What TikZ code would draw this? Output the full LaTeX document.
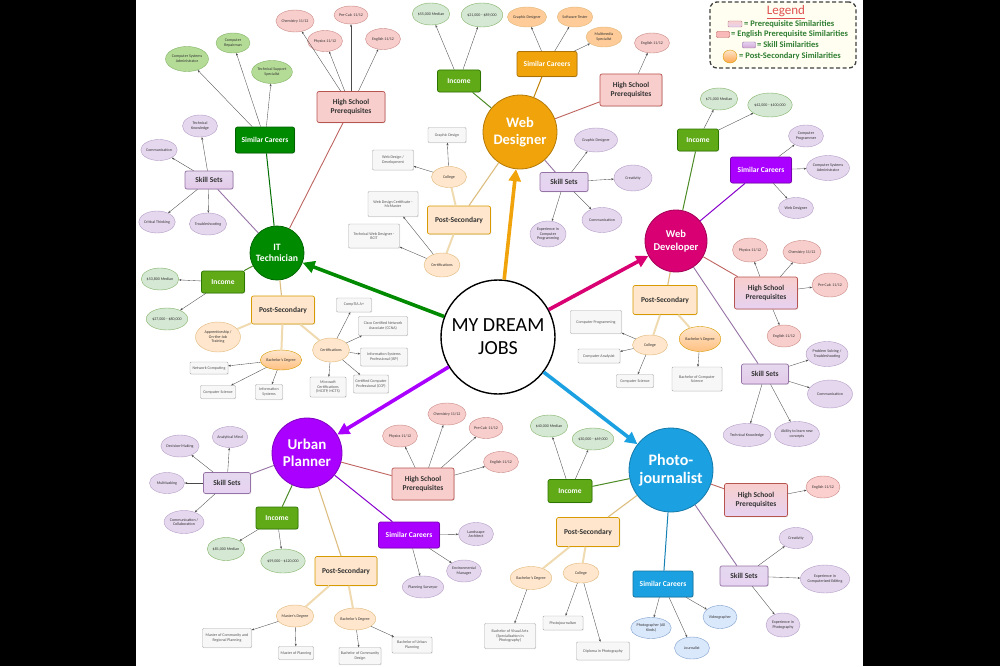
\documentclass[tikz,border=0pt]{standalone}
\usepackage{fontspec}
\setmainfont{Carlito}
\usetikzlibrary{shapes.geometric,arrows.meta,shadows}
\newcommand\fsm{\fontsize{4}{4.6}\selectfont}
\newcommand\fbx{\fontsize{7.5}{8.6}\selectfont\bfseries}
\definecolor{itg}{HTML}{008A00}
\definecolor{wdo}{HTML}{F0A30A}
\definecolor{wdv}{HTML}{D80073}
\definecolor{upp}{HTML}{AA00FF}
\definecolor{phb}{HTML}{1BA1E2}
\definecolor{incg}{HTML}{60A917}
\definecolor{incD}{HTML}{2D7600}
\definecolor{pkF}{HTML}{F8CECC}
\definecolor{pkD}{HTML}{B85450}
\definecolor{pkE}{HTML}{C98A86}
\definecolor{lvF}{HTML}{E5D8EE}
\definecolor{lvD}{HTML}{9673A6}
\definecolor{lvE}{HTML}{B49CC6}
\definecolor{lvP}{HTML}{E6D2F2}
\definecolor{pcF}{HTML}{FFE6CC}
\definecolor{pcD}{HTML}{D79B00}
\definecolor{pcE}{HTML}{E0B878}
\definecolor{grF}{HTML}{D5E8D4}
\definecolor{grD}{HTML}{82B366}
\definecolor{gcF}{HTML}{B5DC97}
\definecolor{blF}{HTML}{DAE8FC}
\definecolor{blD}{HTML}{7F9FCC}
\definecolor{gyF}{HTML}{F7F7F7}
\definecolor{gyD}{HTML}{A8A8A8}
\definecolor{gyT}{HTML}{555555}
\definecolor{ocF}{HTML}{FFCC99}
\definecolor{txt}{HTML}{333333}
\definecolor{arrC}{HTML}{4A4A4A}
\definecolor{tanL}{HTML}{F0DAB0}
\definecolor{tanM}{HTML}{DDBE80}
\definecolor{legG}{HTML}{2E7D32}
\definecolor{legR}{HTML}{E05050}
\tikzset{
  every node/.style={inner sep=0.5pt, align=center},
  hub/.style={circle, draw=#1!75!black, fill=#1, text=white, line width=0.8pt},
  bx/.style={rectangle, rounded corners=2pt, line width=0.7pt, font=\fbx,
     drop shadow={opacity=0.18, shadow xshift=0.8pt, shadow yshift=-0.8pt}},
  careers/.style={bx, fill=#1, draw=#1!70!black, text=white, minimum width=60pt, minimum height=26pt},
  income/.style={bx, fill=incg, draw=incD, text=white, minimum width=43pt, minimum height=22pt},
  hs/.style={bx, fill=pkF, draw=pkD, text=txt, minimum width=63pt, minimum height=32pt},
  hsg/.style={hs, top color=pkF, bottom color=lvP},
  sk/.style={bx, draw=lvD, top color=lvF, bottom color=#1, text=txt, minimum width=48pt, minimum height=19pt},
  ps/.style={bx, fill=pcF, draw=pcD, text=txt, minimum width=63pt, minimum height=28pt},
  el/.style={ellipse, font=\fsm, text=txt, line width=0.4pt, minimum width=35pt, minimum height=22pt, inner sep=0pt},
  pk/.style={el, fill=pkF, draw=pkE},
  gr/.style={el, fill=grF, draw=grD},
  gc/.style={el, fill=gcF, draw=grD},
  lv/.style={el, fill=lvF, draw=lvE},
  pc/.style={el, fill=pcF, draw=pcE},
  og/.style={el, top color=pcF, bottom color=ocF!85!orange, draw=pcD},
  oc/.style={el, fill=ocF, draw=pcE},
  bl/.style={el, fill=blF, draw=blD},
  gy/.style={rectangle, rounded corners=1pt, fill=gyF, draw=gyD, line width=0.4pt, font=\fsm, text=gyT,
     drop shadow={opacity=0.15, shadow xshift=0.7pt, shadow yshift=-0.7pt}},
  sz/.style 2 args={minimum width=#1pt, minimum height=#2pt},
  arr/.style={-{Stealth[length=2.6pt,width=2pt]}, draw=arrC, line width=0.35pt},
  psl/.style={draw=tanL, line width=2pt},
  lnP/.style={draw=tanM, line width=1.1pt},
  lnG/.style={draw=incD!85!white, line width=1pt},
  lnH/.style={draw=pkD!90!white, line width=0.9pt},
  lnS/.style={draw=lvD, line width=0.9pt},
  lnC/.style={draw=#1!80!black, line width=1pt},
  bigarr/.style={line width=3.6pt, draw=#1, -{Triangle[length=12pt,width=12pt]}},
  legtxt/.style={anchor=west, text=legG, font=\fontsize{8.5}{9}\selectfont\bfseries, inner sep=0pt},
}
\begin{document}
\begin{tikzpicture}[x=1pt,y=-1pt]
\useasboundingbox (0,0) rectangle (1000,666);
\fill[black] (0,0) rectangle (1000,666);
\fill[white] (136,0) rectangle (863,666);

% ---------- centre and hubs ----------
\node[circle, draw=black, line width=1.4pt, fill=white, minimum size=114pt, font=\fontsize{20}{23}\selectfont] (c) at (498,337) {MY DREAM\\JOBS};
\node[hub=itg, minimum size=54pt, font=\fontsize{9.7}{11}\selectfont\bfseries] (it) at (277,253) {IT\\Technician};
\node[hub=wdo, minimum size=74pt, font=\fontsize{14.5}{16.5}\selectfont\bfseries] (wd) at (520,132) {Web\\Designer};
\node[hub=wdv, minimum size=62pt, font=\fontsize{10.5}{12.5}\selectfont\bfseries] (wv) at (676,241) {Web\\Developer};
\node[hub=upp, minimum size=70pt, font=\fontsize{15}{17}\selectfont\bfseries] (up) at (307,453) {Urban\\Planner};
\node[hub=phb, minimum size=84pt, font=\fontsize{16}{18.5}\selectfont\bfseries] (ph) at (671,470) {Photo-\\journalist};

\draw[bigarr=wdo] (c) -- (wd);
\draw[bigarr=itg] (c) -- (it);
\draw[bigarr=wdv] (c) -- (wv);
\draw[bigarr=upp] (c) -- (up);
\draw[bigarr=phb] (c) -- (ph);

% ---------- IT Technician ----------
\node[careers=itg, sz={59}{26}] (itSC) at (265,140) {Similar Careers};
\node[gc, sz={38}{25}] (itSC1) at (187,59) {Computer Systems\\Administrator};
\node[gc, sz={34}{20}] (itSC2) at (233,43) {Computer\\Repairman};
\node[gc, sz={39}{23}] (itSC3) at (272,72) {Technical Support\\Specialist};
\node[hs, sz={68}{31}] (itHS) at (351,107) {High School\\Prerequisites};
\node[pk, sz={34}{22}] (itH1) at (295,21) {Chemistry 11/12};
\node[pk, sz={34}{18}] (itH2) at (351,15) {Pre-Calc 11/12};
\node[pk, sz={35}{21}] (itH3) at (325,41) {Physics 11/12};
\node[pk, sz={35}{21}] (itH4) at (383,39) {English 11/12};
\node[sk=lvP!80!violet!60, sz={48}{18}] (itSK) at (209,180) {Skill Sets};
\node[lv, sz={35}{22}] (itK1) at (200,126) {Technical\\Knowledge};
\node[lv, sz={35}{21}] (itK2) at (159,150) {Communication};
\node[lv, sz={32}{22}] (itK3) at (157,222) {Critical Thinking};
\node[lv, sz={34}{22}] (itK4) at (208,224) {Troubleshooting};
\node[income, sz={43}{22}] (itIN) at (223,282) {Income};
\node[gr, sz={35}{22}] (itI1) at (160,279) {\$53,800 Median};
\node[gr, sz={35}{22}] (itI2) at (167,319) {\$27,000 - \$80,000};
\node[ps, sz={63}{28}] (itPS) at (283,310) {Post-Secondary};
\node[pc, sz={45}{30}] (itP1) at (218,337) {Apprenticeship /\\On-the-Job\\Training};
\node[og, sz={34}{20}] (itP2) at (281,360) {Bachelor's Degree};
\node[pc, sz={37}{24}] (itP3) at (331,350) {Certifications};
\node[gy, sz={38}{12}] (itR1) at (209,368) {Network Computing};
\node[gy, sz={35}{13}] (itR2) at (218,392) {Computer Science};
\node[gy, sz={27}{15}] (itR3) at (269,392) {Information\\Systems};
\node[gy, sz={35}{14}] (itR4) at (354,305) {CompTIA A+};
\node[gy, sz={49}{19}] (itR5) at (383,326) {Cisco Certified Network\\Associate (CCNA)};
\node[gy, sz={47}{18}] (itR6) at (384,357) {Information Systems\\Professional (ISP)};
\node[gy, sz={35}{18}] (itR7) at (371,384) {Certified Computer\\Professional (CCP)};
\node[gy, sz={36}{20}] (itR8) at (328,387) {Microsoft\\Certifications\\(MCITP, MCTS)};

\draw[lnC=itg] (it) -- (itSC);
\draw[lnH] (it) -- (itHS);
\draw[lnS] (it) -- (itSK);
\draw[lnG] (it) -- (itIN);
\draw[lnP] (it) -- (itPS);
\foreach \t in {itSC1,itSC2,itSC3} \draw[arr] (itSC) -- (\t);
\foreach \t in {itH1,itH2,itH3,itH4} \draw[arr] (itHS) -- (\t);
\foreach \t in {itK1,itK2,itK3,itK4} \draw[arr] (itSK) -- (\t);
\foreach \t in {itI1,itI2} \draw[arr] (itIN) -- (\t);
\foreach \t in {itP1,itP2,itP3} \draw[psl] (itPS) -- (\t);
\foreach \t in {itR1,itR2,itR3} \draw[arr] (itP2) -- (\t);
\foreach \t in {itR4,itR5,itR6,itR7,itR8} \draw[arr] (itP3) -- (\t);

% ---------- Web Designer ----------
\node[income, sz={43}{22}] (wdIN) at (459,81) {Income};
\node[gr, sz={35}{22}] (wdI1) at (431,14) {\$55,000 Median};
\node[gr, sz={35}{24}] (wdI2) at (482,15) {\$21,000 - \$89,000};
\node[careers=wdo, sz={60}{25}] (wdSC) at (547,64) {Similar Careers};
\node[oc, sz={35}{20}] (wdC1) at (527,17) {Graphic Designer};
\node[oc, sz={35}{20}] (wdC2) at (575,17) {Software Tester};
\node[oc, sz={36}{20}] (wdC3) at (604,37) {Multimedia\\Specialist};
\node[hs, sz={62}{32}] (wdHS) at (631,90) {High School\\Prerequisites};
\node[pk, sz={35}{20}] (wdH1) at (652,43) {English 11/12};
\node[sk=lvP, sz={48}{19}] (wdSK) at (564,182) {Skill Sets};
\node[lv, sz={43}{24}] (wdK1) at (596,140) {Graphic Designer};
\node[lv, sz={38}{26}] (wdK2) at (633,178) {Creativity};
\node[lv, sz={40}{25}] (wdK3) at (602,220) {Communication};
\node[lv, sz={36}{26}] (wdK4) at (548,234) {Experience in\\Computer\\Programming};
\node[ps, sz={63}{28}] (wdPS) at (459,220) {Post-Secondary};
\node[pc, sz={35}{21}] (wdP1) at (449,177) {College};
\node[pc, sz={36}{24}] (wdP2) at (442,265) {Certifications};
\node[gy, sz={38}{15}] (wdR1) at (447,135) {Graphic Design};
\node[gy, sz={41}{20}] (wdR2) at (393,160) {Web Design /\\Development};
\node[gy, sz={50}{25}] (wdR3) at (393,204) {Web Design Certificate -\\McMaster};
\node[gy, sz={51}{24}] (wdR4) at (374,236) {Technical Web Designer -\\BCIT};

\draw[lnG] (wd) -- (wdIN);
\draw[lnC=wdo] (wd) -- (wdSC);
\draw[lnH] (wd) -- (wdHS);
\draw[lnS] (wd) -- (wdSK);
\draw[lnP] (wd) -- (wdPS);
\foreach \t in {wdI1,wdI2} \draw[arr] (wdIN) -- (\t);
\foreach \t in {wdC1,wdC2,wdC3} \draw[arr] (wdSC) -- (\t);
\draw[arr] (wdHS) -- (wdH1);
\foreach \t in {wdK1,wdK2,wdK3,wdK4} \draw[arr] (wdSK) -- (\t);
\foreach \t in {wdP1,wdP2} \draw[psl] (wdPS) -- (\t);
\foreach \t in {wdR1,wdR2} \draw[arr] (wdP1) -- (\t);
\foreach \t in {wdR3,wdR4} \draw[arr] (wdP2) -- (\t);

% ---------- Web Developer ----------
\node[income, sz={41}{22}] (wvIN) at (698,140) {Income};
\node[gr, sz={35}{22}] (wvI1) at (719,99) {\$71,000 Median};
\node[gr, sz={36}{24}] (wvI2) at (770,105) {\$42,000 - \$100,000};
\node[careers=upp, sz={61}{26}] (wvSC) at (761,170) {Similar Careers};
\node[lv, sz={35}{22}] (wvC1) at (806,136) {Computer\\Programmer};
\node[lv, sz={39}{25}] (wvC2) at (828,168) {Computer Systems\\Administrator};
\node[lv, sz={35}{21}] (wvC3) at (796,208) {Web Designer};
\node[hsg, sz={63}{32}] (wvHS) at (766,293) {High School\\Prerequisites};
\node[pk, sz={35}{24}] (wvH1) at (750,250) {Physics 11/12};
\node[pk, sz={36}{23}] (wvH2) at (802,252) {Chemistry 11/12};
\node[pk, sz={36}{24}] (wvH3) at (830,285) {Pre-Calc 11/12};
\node[pk, sz={34}{22}] (wvH4) at (784,336) {English 11/12};
\node[ps, sz={64}{29}] (wvPS) at (665,300) {Post-Secondary};
\node[pc, sz={35}{20}] (wvP1) at (650,345) {College};
\node[og, sz={37}{25}] (wvP2) at (700,339) {Bachelor's Degree};
\node[gy, sz={51}{23}] (wvR1) at (596,322) {Computer Programming};
\node[gy, sz={42}{14}] (wvR2) at (599,356) {Computer Analysist};
\node[gy, sz={37}{13}] (wvR3) at (635,381) {Computer Science};
\node[gy, sz={50}{24}] (wvR4) at (697,379) {Bachelor of Computer\\Science};
\node[sk=lvP!80!violet!60, sz={47}{20}] (wvSK) at (765,374) {Skill Sets};
\node[lv, sz={42}{25}] (wvK1) at (827,354) {Problem Solving /\\Troubleshooting};
\node[lv, sz={45}{28}] (wvK2) at (830,394) {Communication};
\node[lv, sz={40}{23}] (wvK3) at (747,435) {Technical Knowledge};
\node[lv, sz={41}{25}] (wvK4) at (797,434) {Ability to learn new\\concepts};

\draw[lnG] (wv) -- (wvIN);
\draw[lnC=upp] (wv) -- (wvSC);
\draw[lnH] (wv) -- (wvHS);
\draw[lnP] (wv) -- (wvPS);
\draw[lnS] (wv) -- (wvSK);
\foreach \t in {wvI1,wvI2} \draw[arr] (wvIN) -- (\t);
\foreach \t in {wvC1,wvC2,wvC3} \draw[arr] (wvSC) -- (\t);
\foreach \t in {wvH1,wvH2,wvH3,wvH4} \draw[arr] (wvHS) -- (\t);
\foreach \t in {wvP1,wvP2} \draw[psl] (wvPS) -- (\t);
\foreach \t in {wvR1,wvR2,wvR3} \draw[arr] (wvP1) -- (\t);
\draw[arr] (wvP2) -- (wvR4);
\foreach \t in {wvK1,wvK2,wvK3,wvK4} \draw[arr] (wvSK) -- (\t);

% ---------- Urban Planner ----------
\node[sk=lvP, sz={47}{21}] (upSK) at (227,483) {Skill Sets};
\node[lv, sz={35}{21}] (upK1) at (230,437) {Analytical Mind};
\node[lv, sz={36}{22}] (upK2) at (180,446) {Decision-Making};
\node[lv, sz={35}{21}] (upK3) at (167,483) {Multitasking};
\node[lv, sz={35}{23}] (upK4) at (184,522) {Communication /\\Collaboration};
\node[income, sz={42}{22}] (upIN) at (277,518) {Income};
\node[gr, sz={37}{23}] (upI1) at (226,549) {\$81,000 Median};
\node[gr, sz={39}{24}] (upI2) at (283,561) {\$59,000 - \$120,000};
\node[ps, sz={62}{29}] (upPS) at (346,571) {Post-Secondary};
\node[pc, sz={34}{22}] (upP1) at (295,616) {Master's Degree};
\node[pc, sz={36}{22}] (upP2) at (355,619) {Bachelor's Degree};
\node[gy, sz={49}{19}] (upR1) at (227,638) {Master of Community and\\Regional Planning};
\node[gy, sz={35}{13}] (upR2) at (296,653) {Master of Planning};
\node[gy, sz={42}{17}] (upR3) at (360,656) {Bachelor of Community\\Design};
\node[gy, sz={40}{16}] (upR4) at (412,645) {Bachelor of Urban\\Planning};
\node[hs, sz={62}{32}] (upHS) at (423,484) {High School\\Prerequisites};
\node[pk, sz={35}{22}] (upH1) at (400,436) {Physics 11/12};
\node[pk, sz={35}{22}] (upH2) at (447,414) {Chemistry 11/12};
\node[pk, sz={34}{21}] (upH3) at (486,428) {Pre-Calc 11/12};
\node[pk, sz={35}{21}] (upH4) at (501,462) {English 11/12};
\node[careers=upp, sz={61}{26}] (upSC) at (409,535) {Similar Careers};
\node[lv, sz={35}{23}] (upC1) at (476,534) {Landscape\\Architect};
\node[lv, sz={35}{22}] (upC2) at (464,571) {Environmental\\Manager};
\node[lv, sz={36}{22}] (upC3) at (423,587) {Planning Surveyor};

\draw[lnS] (up) -- (upSK);
\draw[lnG] (up) -- (upIN);
\draw[lnP] (up) -- (upPS);
\draw[lnH] (up) -- (upHS);
\draw[lnC=upp] (up) -- (upSC);
\foreach \t in {upK1,upK2,upK3,upK4} \draw[arr] (upSK) -- (\t);
\foreach \t in {upI1,upI2} \draw[arr] (upIN) -- (\t);
\foreach \t in {upP1,upP2} \draw[psl] (upPS) -- (\t);
\foreach \t in {upR1,upR2} \draw[arr] (upP1) -- (\t);
\foreach \t in {upR3,upR4} \draw[arr] (upP2) -- (\t);
\foreach \t in {upH1,upH2,upH3,upH4} \draw[arr] (upHS) -- (\t);
\foreach \t in {upC1,upC2,upC3} \draw[arr] (upSC) -- (\t);

% ---------- Photojournalist ----------
\node[income, sz={44}{23}] (phIN) at (570,491) {Income};
\node[gr, sz={35}{22}] (phI1) at (549,426) {\$40,000 Median};
\node[gr, sz={35}{22}] (phI2) at (593,439) {\$30,000 - \$69,000};
\node[ps, sz={63}{29}] (phPS) at (588,532) {Post-Secondary};
\node[pc, sz={38}{23}] (phP1) at (531,578) {Bachelor's Degree};
\node[pc, sz={36}{20}] (phP2) at (581,573) {College};
\node[gy, sz={51}{25}] (phR1) at (510,636) {Bachelor of Visual Arts\\(Specialization in\\Photography)};
\node[gy, sz={40}{14}] (phR2) at (563,623) {Photojournalism};
\node[gy, sz={53}{18}] (phR3) at (603,651) {Diploma in Photography};
\node[careers=phb, sz={60}{26}] (phSC) at (663,584) {Similar Careers};
\node[bl, sz={34}{21}] (phC1) at (651,628) {Photographer (All\\Kinds)};
\node[bl, sz={35}{22}] (phC2) at (692,648) {Journalist};
\node[bl, sz={34}{23}] (phC3) at (720,617) {Videographer};
\node[hsg, sz={63}{33}] (phHS) at (756,500) {High School\\Prerequisites};
\node[pk, sz={34}{22}, fill=pkF!85!red!60] (phH1) at (823,487) {English 11/12};
\node[sk=lvP, sz={48}{20}] (phSK) at (744,576) {Skill Sets};
\node[lv, sz={34}{21}] (phK1) at (796,538) {Creativity};
\node[lv, sz={44}{28}] (phK2) at (825,579) {Experience in\\Computerized Editing};
\node[lv, sz={34}{24}] (phK3) at (783,625) {Experience in\\Photography};

\draw[lnG] (ph) -- (phIN);
\draw[lnP] (ph) -- (phPS);
\draw[lnC=phb] (ph) -- (phSC);
\draw[lnH] (ph) -- (phHS);
\draw[lnS] (ph) -- (phSK);
\foreach \t in {phI1,phI2} \draw[arr] (phIN) -- (\t);
\foreach \t in {phP1,phP2} \draw[psl] (phPS) -- (\t);
\draw[arr] (phP1) -- (phR1);
\foreach \t in {phR2,phR3} \draw[arr] (phP2) -- (\t);
\foreach \t in {phC1,phC2,phC3} \draw[arr] (phSC) -- (\t);
\draw[arr] (phHS) -- (phH1);
\foreach \t in {phK1,phK2,phK3} \draw[arr] (phSK) -- (\t);

% ---------- Legend ----------
\node[draw=black!75, dash pattern=on 4pt off 2.5pt, line width=1.3pt, rounded corners=7pt, fill=yellow!6!white, minimum width=146pt, minimum height=66pt] (leg) at (783,35) {};
\node[text=legR, font=\fontsize{13}{14}\selectfont] (legT) at (786,12) {\underline{Legend}};
\node[rectangle, rounded corners=1pt, draw=pkE!70!lvD, top color=pkF, bottom color=lvP, minimum width=14pt, minimum height=6pt, inner sep=0pt] (sw1) at (735,24) {};
\node[legtxt] (lt1) at (744,24) {= Prerequisite Similarities};
\node[rectangle, rounded corners=1pt, draw=pkD, fill=pkF!90!red, minimum width=13pt, minimum height=6pt, inner sep=0pt] (sw2) at (723,34.5) {};
\node[legtxt] (lt2) at (731,34.5) {= English Prerequisite Similarities};
\node[rectangle, rounded corners=1pt, draw=lvD, top color=lvP, bottom color=violet!35, minimum width=13pt, minimum height=6pt, inner sep=0pt] (sw3) at (749,45) {};
\node[legtxt] (lt3) at (757,45) {= Skill Similarities};
\node[ellipse, draw=pcD, top color=pcF, bottom color=orange!70, minimum width=14pt, minimum height=13pt, inner sep=0pt] (sw4) at (730,56.5) {};
\node[legtxt] (lt4) at (739,56.5) {= Post-Secondary Similarities};
\end{tikzpicture}
\end{document}
